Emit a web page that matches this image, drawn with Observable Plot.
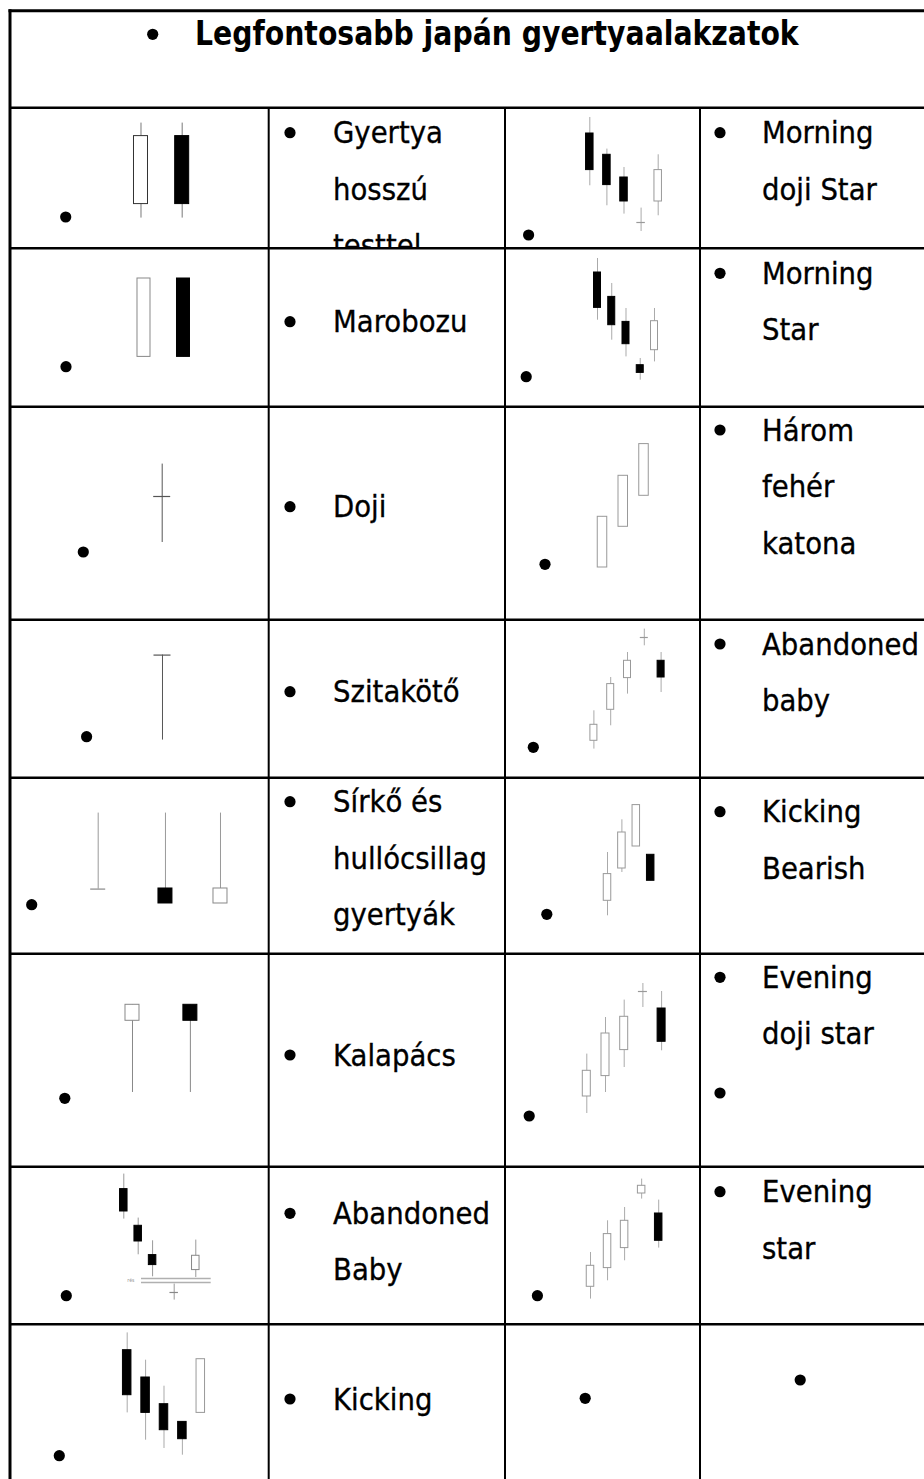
<!DOCTYPE html>
<html>
<head>
<meta charset="utf-8">
<script src="https://cdn.jsdelivr.net/npm/d3@7"></script>
<script src="https://cdn.jsdelivr.net/npm/@observablehq/plot@0.6"></script>
<style>
html,body{margin:0;padding:0;background:#fff;}
#page{position:relative;width:924px;height:1479px;overflow:hidden;background:#fff;}
.chart{position:absolute;}
.chart svg{display:block;background:transparent;}
#overlay{position:absolute;left:0;top:0;pointer-events:none;}
</style>
</head>
<body>
<div id="page"></div>
<script>
// ---------------- texts ----------------
const title = "Legfontosabb japán gyertyaalakzatok";
const labelsLeft = [["Gyertya","hosszú","testtel"],["Marobozu"],["Doji"],["Szitakötő"],["Sírkő és","hullócsillag","gyertyák"],["Kalapács"],["Abandoned","Baby"],["Kicking"]];
const labelsRight = [["Morning","doji Star"],["Morning","Star"],["Három","fehér","katona"],["Abandoned","baby"],["Kicking","Bearish"],["Evening","doji star"],["Evening","star"],[]];
const gapLabel = "rés";

// ---------------- candle data (t = session, o/h/l/c = price) ----------------
const hosszuTest = [{t:1,o:45,h:126,l:31,c:113},{t:2,o:113,h:126,l:31,c:45}];
const marobozu = [{t:1,o:50,h:128.4,l:50,c:128.4},{t:2,o:128.4,h:128.4,l:50,c:50}];
const doji = [{t:1,o:124,h:156.4,l:78,c:124}];
const szitakoto = [{t:1,o:123.4,h:123.4,l:38.4,c:123.4}];
const sirko = [{t:1,o:65.4,h:141.4,l:65.4,c:65.4},{t:2.1,o:66,h:141.4,l:51,c:51},{t:3,o:51,h:141.4,l:51,c:66}];
const kalapacs = [{t:1,o:146.7,h:162.7,l:75,c:162.7},{t:2,o:162.7,h:162.7,l:75,c:146.7}];
const abandonedBabyL = [{t:1,o:136,h:151,l:106,c:113.6},{t:2,o:99.3,h:107,l:70.3,c:83.6},{t:3,o:70,h:84.3,l:48.3,c:60},{t:4.5,o:32.6,h:41,l:25,c:32.6},{t:6,o:55,h:85,l:47.6,c:69.3}];
const gapLines = [{p:46.6,from:2.23,to:7.07},{p:42.6,from:2.23,to:7.07}];
const gapText = [{t:1.49,p:45}];
const kickingL = [{t:1,o:129,h:146.3,l:66.3,c:84},{t:2,o:101.7,h:119,l:39,c:66.3},{t:3,o:75,h:93,l:30.7,c:49},{t:4,o:57.3,h:57.3,l:24,c:40},{t:5,o:66.3,h:120,l:66.3,c:120}];

const morningDojiStar = [{t:1,o:115.6,h:131.6,l:63.3,c:79},{t:2,o:94.3,h:100,l:43.3,c:64},{t:3,o:71.6,h:81.6,l:35,c:47.6},{t:4,o:26.6,h:41,l:17.6,c:26.6},{t:5,o:47.6,h:94.3,l:33.3,c:79}];
const morningStar = [{t:1,o:134.4,h:148.4,l:86.7,c:99},{t:2,o:110,h:123.4,l:66.7,c:81.7},{t:3,o:85,h:98.4,l:50,c:62.7},{t:4,o:41.7,h:48.4,l:26.7,c:34},{t:5,o:56.7,h:98.4,l:45,c:85.7}];
const haromFeher = [{t:1,o:53,h:103.7,l:53,c:103.7},{t:2,o:93.7,h:144.7,l:93.7,c:144.7},{t:3,o:124.7,h:176.4,l:124.7,c:176.4}];
const abandonedBabyR = [{t:1,o:37.7,h:67.7,l:29.4,c:53.7},{t:2,o:68.7,h:101,l:52.7,c:94.4},{t:3,o:100.4,h:126,l:84.4,c:117.7},{t:4,o:141,h:149.4,l:132.7,c:141},{t:5,o:117.7,h:126,l:86,c:101}];
const kickingBearish = [{t:1,o:53.7,h:102,l:38.7,c:80.4},{t:2,o:86,h:134.7,l:82,c:122},{t:3,o:108,h:149.4,l:108,c:149.4},{t:4,o:99.7,h:99.7,l:73.7,c:73.7}];
const eveningDojiStar = [{t:1,o:71,h:113.4,l:54,c:96.7},{t:2,o:91.4,h:150,l:75,c:134},{t:3,o:117.4,h:167.4,l:100,c:150.7},{t:4,o:176,h:184,l:160,c:176},{t:5,o:159,h:176,l:116.7,c:125.7}];
const eveningStar = [{t:1,o:38.3,h:72.6,l:26,c:59.3},{t:2,o:57,h:104.3,l:44.3,c:91},{t:3,o:77,h:117.6,l:64.3,c:104.3},{t:4,o:131.6,h:146,l:126,c:139.3},{t:5,o:111.6,h:125,l:77,c:84.3}];

// ---------------- layout ----------------
const PAGE_W = 924, PAGE_H = 1479;
const rowEdges = [107.7, 248.3, 406.7, 619.7, 777.7, 953.7, 1166.7, 1324.3, PAGE_H];
const colEdges = [10, 268.7, 505, 700, PAGE_W];

const charts = [
  {data: hosszuTest, row:0, col:0, x0:130.5, s:41.2, bw:15, wick:"#777", edge:"#333"},
  {data: marobozu, row:1, col:0, x0:133.5, s:39.5, bw:14, wick:"#888", edge:"#888"},
  {data: doji, row:2, col:0, x0:151.7, s:20, bw:17, wick:"#555", edge:"#555"},
  {data: szitakoto, row:3, col:0, x0:152, s:20, bw:17, wick:"#555", edge:"#555"},
  {data: sirko, row:4, col:0, x0:87.7, s:61.15, bw:15, wick:"#999", edge:"#888"},
  {data: kalapacs, row:5, col:0, x0:122, s:57.9, bw:15, wick:"#888", edge:"#888"},
  {data: abandonedBabyL, row:6, col:0, x0:113.3, s:14.4, bw:8.5, wick:"#999", edge:"#888", gap:true},
  {data: kickingL, row:7, col:0, x0:116.7, s:18.4, bw:9.5, wick:"#aaa", edge:"#999"},
  {data: morningDojiStar, row:0, col:2, x0:84.3, s:17.1, bw:8.5, wick:"#aaa", edge:"#999"},
  {data: morningStar, row:1, col:2, x0:92, s:14.25, bw:8, wick:"#aaa", edge:"#999"},
  {data: haromFeher, row:2, col:2, x0:97, s:20.75, bw:10.5, wick:"#aaa", edge:"#999"},
  {data: abandonedBabyR, row:3, col:2, x0:88.4, s:16.8, bw:8, wick:"#aaa", edge:"#999"},
  {data: kickingBearish, row:4, col:2, x0:102, s:14.4, bw:8.5, wick:"#aaa", edge:"#999"},
  {data: eveningDojiStar, row:5, col:2, x0:81.3, s:18.7, bw:9, wick:"#aaa", edge:"#999"},
  {data: eveningStar, row:6, col:2, x0:85, s:17.05, bw:8.5, wick:"#aaa", edge:"#999"}
];

const page = document.getElementById("page");

function candleChart(cfg){
  const left = colEdges[cfg.col], top = rowEdges[cfg.row];
  const W = colEdges[cfg.col+1] - left, H = rowEdges[cfg.row+1] - top;
  const half = (cfg.bw - 1) / 2 / cfg.s;
  const bodies = cfg.data.filter(d => d.o !== d.c);
  const ticks = cfg.data.filter(d => d.o === d.c);
  const marks = [
    Plot.ruleX(cfg.data, {x:"t", y1:"l", y2:"h", stroke:cfg.wick, strokeWidth:1}),
    Plot.rect(bodies, {x1:d=>d.t-half, x2:d=>d.t+half, y1:"o", y2:"c",
      fill:d=>d.c>d.o?"white":"black", stroke:d=>d.c>d.o?cfg.edge:"black", strokeWidth:1}),
    Plot.ruleY(ticks, {y:"o", x1:d=>d.t-half-0.5/cfg.s, x2:d=>d.t+half+0.5/cfg.s, stroke:cfg.edge, strokeWidth:1.2})
  ];
  if (cfg.gap){
    marks.push(Plot.ruleY(gapLines, {y:"p", x1:"from", x2:"to", stroke:"#b0b0b0", strokeWidth:1.4}));
    marks.push(Plot.text(gapText, {x:"t", y:"p", text:()=>gapLabel, fontSize:5, fill:"#999"}));
  }
  const svg = Plot.plot({
    width: W, height: H, margin: 0,
    style: {background:"transparent"},
    x: {type:"linear", domain:[1 - cfg.x0/cfg.s, 1 + (W - cfg.x0)/cfg.s], axis:null},
    y: {type:"linear", domain:[0, H], axis:null},
    marks
  });
  const div = document.createElement("div");
  div.className = "chart";
  div.style.left = left + "px";
  div.style.top = top + "px";
  div.appendChild(svg);
  page.appendChild(div);
}
charts.forEach(candleChart);

// ---------------- table overlay ----------------
const svg = d3.select(page).append("svg").attr("id","overlay")
  .attr("width", PAGE_W).attr("height", PAGE_H);

const defs = svg.append("defs");
rowEdges.slice(0,-1).forEach((y,i)=>{
  defs.append("clipPath").attr("id","clip"+i).append("rect")
    .attr("x",0).attr("y",y).attr("width",PAGE_W).attr("height",rowEdges[i+1]-y);
});

const FONT = "'DejaVu Sans', Verdana, sans-serif";
const BODY_SIZE = 30.6, BODY_SX = 0.9, LINE = 56.5, R = 5.6;

function bullet(x,y){ svg.append("circle").attr("cx",x).attr("cy",y).attr("r",R).attr("fill","#000"); }

// title
bullet(152.7, 34.3);
svg.append("text").attr("transform","translate(195,45) scale(0.85,1)")
  .attr("font-family",FONT).attr("font-weight","bold").attr("font-size",33.3)
  .attr("fill","#000").text(title);

const leftBulletY = [132.7, 321.7, 506.7, 691.7, 801.7, 1055, 1213.3, 1399];
const rightBulletY = [132.7, 273.3, 430, 644, 811.7, 977.3, 1191.7, 1380];

function label(lines, bx, by, tx, row){
  const g = svg.append("g").attr("clip-path","url(#clip"+row+")");
  g.append("circle").attr("cx",bx).attr("cy",by).attr("r",R).attr("fill","#000");
  lines.forEach((s,k)=>{
    g.append("text").attr("transform",`translate(${tx},${by+10.5+k*LINE}) scale(${BODY_SX},1)`)
      .attr("font-family",FONT).attr("font-size",BODY_SIZE).attr("fill","#000")
      .attr("stroke","#000").attr("stroke-width",0.35).text(s);
  });
}
labelsLeft.forEach((lines,i)=>label(lines, 290, leftBulletY[i], 333, i));
labelsRight.forEach((lines,i)=>label(lines, i===7?800.2:720, rightBulletY[i], 762, i));
bullet(720, 1093);

// bullets in picture cells
const imgBulletsL = [[65.7,217],[66,366.7],[83.3,552],[86.6,736.7],[31.7,904.7],[64.8,1098.3],[66.3,1295.7],[59.3,1455.7]];
const imgBulletsR = [[528.6,235],[526.2,376.7],[545,564.3],[533.3,747.3],[546.8,914.3],[529.2,1116],[537.4,1295.7],[585.2,1398.3]];
imgBulletsL.concat(imgBulletsR).forEach(([x,y])=>bullet(x,y));

// grid lines
const line = (x1,y1,x2,y2,w)=>svg.append("line").attr("x1",x1).attr("y1",y1).attr("x2",x2).attr("y2",y2)
  .attr("stroke","#000").attr("stroke-width",w);
line(8.5, 10.7, PAGE_W, 10.7, 3);
line(10, 9.2, 10, PAGE_H, 3);
rowEdges.slice(0,-1).forEach(y=>line(10, y, PAGE_W, y, 2.4));
colEdges.slice(1,4).forEach(x=>line(x, 107.7, x, PAGE_H, 2));
</script>
</body>
</html>
